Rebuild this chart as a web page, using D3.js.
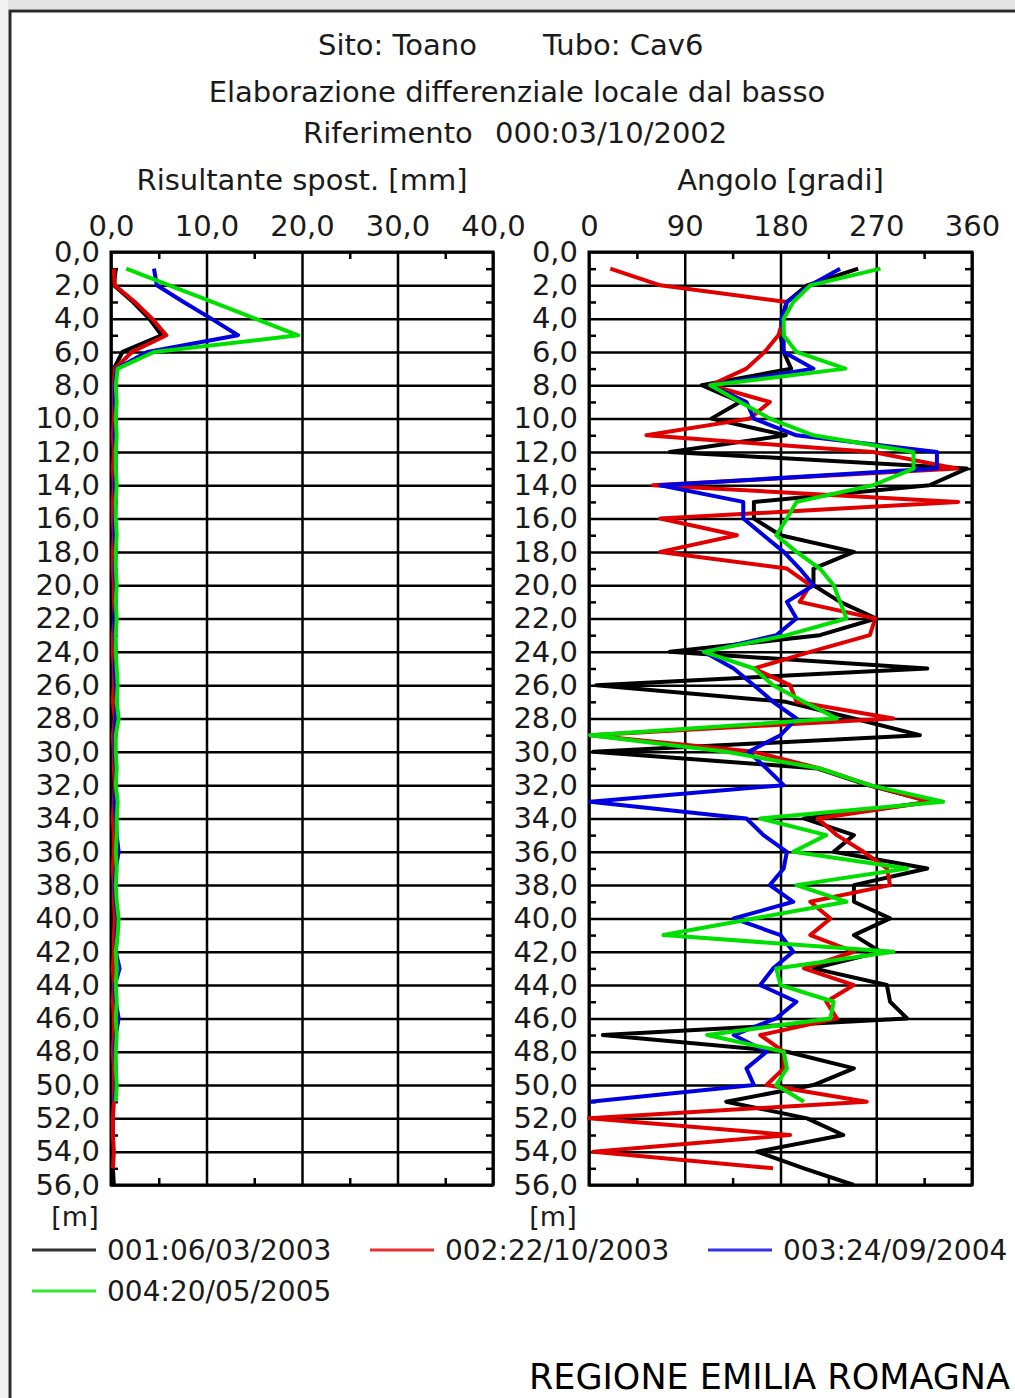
<!DOCTYPE html>
<html>
<head>
<meta charset="utf-8">
<script src="https://cdn.jsdelivr.net/npm/d3@7"></script>
<style>
  body { margin: 0; background: #fff; }
  text { font-family: "DejaVu Sans", Verdana, sans-serif; fill: #1a1a1a; }
</style>
</head>
<body>
<svg id="chart"></svg>
<script>
// depths in metres (one reading per metre)
const depth = [1,2,3,4,5,6,7,8,9,10,11,12,13,14,15,16,17,18,19,20,
  21,22,23,24,25,26,27,28,29,30,31,32,33,34,35,36,37,38,39,40,
  41,42,43,44,45,46,47,48,49,50,51,52,53,54,55,56];

const seriesNames = ["001:06/03/2003", "002:22/10/2003", "003:24/09/2004", "004:20/05/2005"];
const seriesColors = ["#000000", "#e00000", "#0000e0", "#00e000"];

// Risultante spost. [mm]
const dispBlack = [0.5,0.3,2.3,4.0,5.3,1.2,0.3,0.2,0.2,0.1,
  0.2,0.2,0.1,0.1,0.2,0.1,0.1,0.2,0.1,0.1,
  0.2,0.2,0.1,0.1,0.1,0.2,0.2,0.3,0.2,0.1,
  0.2,0.2,0.1,0.1,0.2,0.1,0.2,0.1,0.1,0.2,
  0.2,0.1,0.1,0.2,0.1,0.2,0.3,0.1,0.1,0.2,
  0.1,0.2,0.2,0.1,0.2,0.3];
const dispRed = [0.3,0.4,2.5,4.3,5.8,2.2,0.4,0.3,0.3,0.3,
  0.2,0.3,0.2,0.3,0.2,0.2,0.3,0.2,0.2,0.3,
  0.3,0.4,0.2,0.2,0.3,0.3,0.2,0.4,0.2,0.3,
  0.3,0.4,0.3,0.2,0.3,0.3,0.2,0.3,0.3,0.4,
  0.3,0.3,0.2,0.3,0.2,0.3,0.3,0.2,0.3,0.3,
  0.3,0.2,0.2,0.3,0.2];
const dispBlue = [4.5,4.8,7.6,10.5,13.3,3.8,0.6,0.4,0.4,0.5,
  0.4,0.5,0.5,0.4,0.5,0.4,0.4,0.5,0.4,0.5,
  0.5,0.4,0.4,0.5,0.4,0.5,0.6,0.5,0.4,0.4,
  0.5,0.5,0.4,0.5,0.6,0.8,0.5,0.4,0.5,0.7,
  0.6,0.5,0.9,0.4,0.5,0.8,0.5,0.4,0.5,0.5,
  0.4];
const dispGreen = [1.6,6.1,10.6,15.1,19.6,4.5,0.7,0.5,0.6,0.5,
  0.6,0.5,0.5,0.6,0.5,0.5,0.6,0.5,0.5,0.6,
  0.5,0.6,0.5,0.5,0.6,0.7,0.6,0.8,0.5,0.5,
  0.6,0.5,0.7,0.6,0.6,0.5,0.6,0.5,0.6,0.8,
  0.7,0.5,0.6,0.5,0.6,0.5,0.6,0.5,0.5,0.6,
  0.5];

// Angolo [gradi]
const angBlack = [253,205,186,181,180,183,190,106,142,115,
  185,76,355,320,155,155,180,249,211,211,
  236,270,217,76,318,7,185,249,311,4,
  215,262,322,202,249,230,318,249,249,283,
  249,274,211,280,283,299,13,186,249,211,
  129,205,239,158,202,249];
const angRed = [20,67,186,183,178,165,148,114,170,151,
  54,267,346,60,347,67,139,67,186,208,
  198,269,264,208,155,189,195,286,1,155,
  217,264,321,215,233,258,280,283,208,227,
  208,249,202,249,223,233,161,183,183,167,
  261,0,189,4,173];
const angBlue = [236,208,186,181,183,183,211,114,148,155,
  195,327,327,67,145,145,164,183,198,211,
  186,195,176,108,136,155,173,195,180,150,
  167,183,1,148,164,186,183,170,192,136,
  180,192,173,161,195,176,136,167,148,155,
  1];
const angGreen = [274,208,192,183,183,195,241,114,142,170,
  211,305,305,267,195,186,176,195,217,230,
  236,242,186,108,155,173,202,233,1,129,
  217,264,333,161,223,192,299,195,242,155,
  70,286,176,180,230,227,111,183,186,176,
  202];

// tick values
const depthTicks = [0,2,4,6,8,10,12,14,16,18,20,22,24,26,28,30,32,34,36,38,40,42,44,46,48,50,52,54,56];
const depthMinor = [1,3,5,7,9,11,13,15,17,19,21,23,25,27,29,31,33,35,37,39,41,43,45,47,49,51,53,55];
const dispTicks = [0,10,20,30,40];
const dispMinor = [5,15,25,35];
const angTicks = [0,90,180,270,360];
const angMinor = [45,135,225,315];

const W = 1015, H = 1398;
const plotTop = 252, plotBot = 1185;
const fs = 29;

const svg = d3.select("#chart").attr("width", W).attr("height", H);

// outer frame
svg.append("rect").attr("x", 0).attr("y", 0).attr("width", W).attr("height", 9).attr("fill", "#e4e4e4");
svg.append("rect").attr("x", 0).attr("y", 0).attr("width", 8).attr("height", H).attr("fill", "#f2f2f2");
svg.append("path")
  .attr("d", `M10,${H} V11 H${W}`)
  .attr("fill", "none").attr("stroke", "#2a2a2a").attr("stroke-width", 3);

const commaFmt = d3.formatLocale({decimal: ",", thousands: ".", grouping: [3], currency: ["", ""]}).format(".1f");

const y = d3.scaleLinear().domain([0, 56]).range([plotTop, plotBot]);

// titles
svg.append("text").attr("x", 318).attr("y", 55).attr("font-size", fs).text("Sito: Toano");
svg.append("text").attr("x", 543).attr("y", 55).attr("font-size", fs).text("Tubo: Cav6");
svg.append("text").attr("x", 517).attr("y", 102).attr("text-anchor", "middle").attr("font-size", fs)
  .text("Elaborazione differenziale locale dal basso");
svg.append("text").attr("x", 303).attr("y", 143).attr("font-size", fs).text("Riferimento");
svg.append("text").attr("x", 495).attr("y", 143).attr("font-size", fs).text("000:03/10/2002");

function panel(x, ticks, minor, fmt, title, series) {
  const [x0, x1] = x.range();
  const g = svg.append("g");

  g.append("text").attr("x", (x0 + x1) / 2).attr("y", 190).attr("text-anchor", "middle")
    .attr("font-size", fs).text(title);

  // grid lines
  g.append("g").attr("transform", `translate(0,${plotBot})`)
    .call(d3.axisBottom(x).tickValues(ticks).tickSize(-(plotBot - plotTop)).tickFormat(""))
    .call(a => a.select(".domain").remove())
    .call(a => a.selectAll("line").attr("stroke", "#000").attr("stroke-width", 2.5));
  g.append("g").attr("transform", `translate(${x0},0)`)
    .call(d3.axisLeft(y).tickValues(depthTicks).tickSize(-(x1 - x0)).tickFormat(""))
    .call(a => a.select(".domain").remove())
    .call(a => a.selectAll("line").attr("stroke", "#000").attr("stroke-width", 2.5));

  // minor ticks on all four sides
  const minorStyle = a => {
    a.select(".domain").remove();
    a.selectAll("line").attr("stroke", "#000").attr("stroke-width", 2.5);
  };
  g.append("g").attr("transform", `translate(0,${plotTop})`)
    .call(d3.axisTop(x).tickValues(minor).tickSize(-7).tickFormat("")).call(minorStyle);
  g.append("g").attr("transform", `translate(0,${plotBot})`)
    .call(d3.axisBottom(x).tickValues(minor).tickSize(-7).tickFormat("")).call(minorStyle);
  g.append("g").attr("transform", `translate(${x0},0)`)
    .call(d3.axisLeft(y).tickValues(depthMinor).tickSize(-7).tickFormat("")).call(minorStyle);
  g.append("g").attr("transform", `translate(${x1},0)`)
    .call(d3.axisRight(y).tickValues(depthMinor).tickSize(-7).tickFormat("")).call(minorStyle);

  // tick labels
  g.append("g").attr("transform", `translate(0,${plotTop})`)
    .call(d3.axisTop(x).tickValues(ticks).tickSize(0).tickPadding(16).tickFormat(fmt))
    .call(a => a.select(".domain").remove())
    .call(a => a.selectAll("text").attr("font-size", fs).attr("font-family", null).attr("fill", "#1a1a1a"));
  g.append("g").attr("transform", `translate(${x0},0)`)
    .call(d3.axisLeft(y).tickValues(depthTicks).tickSize(0).tickPadding(11).tickFormat(commaFmt))
    .call(a => a.select(".domain").remove())
    .call(a => a.selectAll("text").attr("font-size", fs).attr("font-family", null).attr("fill", "#1a1a1a"));

  g.append("text").attr("x", x0 - 36).attr("y", plotBot + 41).attr("text-anchor", "middle")
    .attr("font-size", fs - 2).text("[m]");

  // frame
  g.append("rect").attr("x", x0).attr("y", plotTop).attr("width", x1 - x0).attr("height", plotBot - plotTop)
    .attr("fill", "none").attr("stroke", "#000").attr("stroke-width", 3);

  const line = d3.line().x(d => x(d.v)).y(d => y(d.d));
  series.forEach((vals, i) => {
    g.append("path")
      .datum(vals.map((v, k) => ({d: depth[k], v: v})))
      .attr("d", line)
      .attr("fill", "none")
      .attr("stroke", seriesColors[i])
      .attr("stroke-width", 4)
      .attr("stroke-linejoin", "round");
  });
}

const xDisp = d3.scaleLinear().domain([0, 40]).range([111, 493]);
const xAng = d3.scaleLinear().domain([0, 360]).range([589, 972]);

panel(xDisp, dispTicks, dispMinor, commaFmt, "Risultante spost. [mm]",
  [dispBlack, dispRed, dispBlue, dispGreen]);
panel(xAng, angTicks, angMinor, d3.format("d"), "Angolo [gradi]",
  [angBlack, angRed, angBlue, angGreen]);

// legend
const legendPos = [[32, 1250], [370, 1250], [708, 1250], [32, 1291]];
const leg = svg.append("g");
seriesNames.forEach((name, i) => {
  const [lx, ly] = legendPos[i];
  leg.append("line").attr("x1", lx).attr("x2", lx + 64).attr("y1", ly).attr("y2", ly)
    .attr("stroke", seriesColors[i]).attr("stroke-width", 3).attr("opacity", 0.8);
  leg.append("text").attr("x", lx + 75).attr("y", ly + 10).attr("font-size", 28).text(name);
});

svg.append("text").attr("x", 1010).attr("y", 1389).attr("text-anchor", "end")
  .attr("font-size", 35).style("fill", "#000").text("REGIONE EMILIA ROMAGNA");
</script>
</body>
</html>
